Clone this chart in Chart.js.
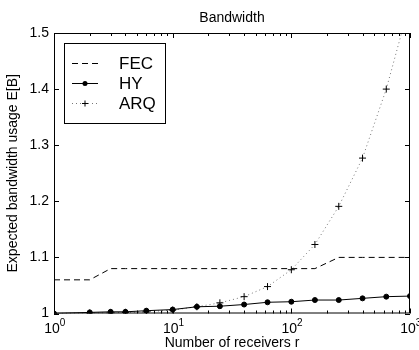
<!DOCTYPE html>
<html>
<head>
<meta charset="utf-8">
<script src="https://cdn.jsdelivr.net/npm/chart.js@4"></script>
<style>
  body { margin: 0; background: #fff; }
  canvas { display: block; }
</style>
</head>
<body>
<canvas id="bw" width="419" height="350"></canvas>
<script>
// data
const receivers = [1, 2, 3, 4, 6, 10, 16, 25, 40, 63, 100, 158, 251, 398, 631, 1000];
const fecValues = [1.06, 1.06, 1.08, 1.08, 1.08, 1.08, 1.08, 1.08, 1.08, 1.08, 1.08, 1.08, 1.10, 1.10, 1.10, 1.10];
const hyValues  = [1.000, 1.002, 1.003, 1.003, 1.005, 1.007, 1.012, 1.013, 1.016, 1.020, 1.021, 1.024, 1.024, 1.027, 1.030, 1.031];
const arqValues = [1.000, 1.001, 1.001, 1.002, 1.003, 1.006, 1.012, 1.019, 1.030, 1.048, 1.078, 1.123, 1.191, 1.277, 1.400, 1.555];
const yTicks = [1, 1.1, 1.2, 1.3, 1.4, 1.5];
const xDecades = [1, 10, 100, 1000];
const seriesNames = ['FEC', 'HY', 'ARQ'];

const FONT = '"Liberation Sans", Arial, Helvetica, sans-serif';

function pts(vals) {
    return receivers.map((r, i) => ({ x: r, y: vals[i] }));
}

// MATLAB-like box, inward ticks, labels and legend
const matlabFrame = {
    id: 'matlabFrame',
    afterDraw(chart) {
        const ctx = chart.ctx;
        const a = chart.chartArea;
        const xs = chart.scales.x;
        const ys = chart.scales.y;
        ctx.save();
        ctx.strokeStyle = '#000';
        ctx.lineWidth = 1;
        ctx.setLineDash([]);
        ctx.strokeRect(a.left + 0.5, a.top + 0.5, a.right - a.left - 1, a.bottom - a.top - 1);

        // x ticks (major + minor), top and bottom
        ctx.beginPath();
        xDecades.forEach((d, k) => {
            for (let m = 1; m <= 9; m++) {
                const v = d * m;
                if (v > 1000 || (m > 1 && k === xDecades.length - 1)) continue;
                const px = Math.round(xs.getPixelForValue(v)) + 0.5;
                const len = m === 1 ? 5 : 3;
                ctx.moveTo(px, a.bottom);
                ctx.lineTo(px, a.bottom - len);
                ctx.moveTo(px, a.top);
                ctx.lineTo(px, a.top + len);
            }
        });
        // y ticks, left and right
        yTicks.forEach(v => {
            const py = Math.round(ys.getPixelForValue(v)) + 0.5;
            ctx.moveTo(a.left, py);
            ctx.lineTo(a.left + 5, py);
            ctx.moveTo(a.right, py);
            ctx.lineTo(a.right - 5, py);
        });
        ctx.stroke();

        // x tick labels 10^n
        ctx.fillStyle = '#000';
        ctx.textBaseline = 'alphabetic';
        xDecades.forEach((d, k) => {
            const px = xs.getPixelForValue(d);
            ctx.font = '14px ' + FONT;
            const w = ctx.measureText('10').width;
            ctx.textAlign = 'left';
            ctx.fillText('10', px - w / 2 - 2, 333);
            ctx.font = '10px ' + FONT;
            ctx.fillText(String(k), px + w / 2 - 2, 326);
        });

        // titles
        ctx.font = '14px ' + FONT;
        ctx.textAlign = 'center';
        ctx.fillText('Bandwidth', (a.left + a.right) / 2, 22);
        ctx.fillText('Number of receivers r', (a.left + a.right) / 2, 347);
        ctx.save();
        ctx.translate(17, (a.top + a.bottom) / 2);
        ctx.rotate(-Math.PI / 2);
        ctx.fillText('Expected bandwidth usage E[B]', 0, 0);
        ctx.restore();

        // legend
        ctx.fillStyle = '#fff';
        ctx.fillRect(64.5, 43.5, 101, 80);
        ctx.strokeRect(64.5, 43.5, 101, 80);
        const rows = [63, 83, 103];
        chart.data.datasets.forEach((ds, i) => {
            const y = rows[i] + 0.5;
            ctx.strokeStyle = ds.borderColor;
            ctx.lineWidth = ds.borderWidth;
            ctx.setLineDash(ds.borderDash || []);
            ctx.beginPath();
            ctx.moveTo(72, y);
            ctx.lineTo(98, y);
            ctx.stroke();
            ctx.setLineDash([]);
            if (ds.pointStyle === 'circle') {
                ctx.fillStyle = '#000';
                ctx.beginPath();
                ctx.arc(85, y, 2.5, 0, Math.PI * 2);
                ctx.fill();
            } else if (ds.pointStyle === 'cross') {
                ctx.strokeStyle = '#000';
                ctx.lineWidth = 1;
                ctx.beginPath();
                ctx.moveTo(82, y); ctx.lineTo(88, y);
                ctx.moveTo(85, y - 3); ctx.lineTo(85, y + 3);
                ctx.stroke();
            }
            ctx.fillStyle = '#000';
            ctx.font = '17px ' + FONT;
            ctx.textAlign = 'left';
            ctx.textBaseline = 'middle';
            ctx.fillText(seriesNames[i], 119, rows[i] + 1);
        });
        ctx.restore();
    }
};

new Chart(document.getElementById('bw'), {
    type: 'line',
    data: {
        datasets: [{
            label: seriesNames[0],
            data: pts(fecValues),
            borderColor: '#000',
            borderWidth: 1,
            borderDash: [6, 4],
            pointRadius: 0,
            pointStyle: false
        }, {
            label: seriesNames[1],
            data: pts(hyValues),
            borderColor: '#000',
            borderWidth: 1,
            pointStyle: 'circle',
            pointRadius: 2.5,
            pointBackgroundColor: '#000',
            pointBorderColor: '#000'
        }, {
            label: seriesNames[2],
            data: pts(arqValues),
            borderColor: '#777',
            borderWidth: 1,
            borderDash: [1, 3],
            pointStyle: 'cross',
            pointRadius: 3.5,
            pointBorderColor: '#000',
            pointBorderWidth: 1
        }]
    },
    options: {
        responsive: false,
        animation: false,
        devicePixelRatio: 1,
        layout: { padding: { top: 33, right: 9, left: 0, bottom: 0 } },
        plugins: {
            legend: { display: false },
            tooltip: { enabled: false },
            title: { display: false }
        },
        scales: {
            x: {
                type: 'logarithmic',
                min: 1,
                max: 1000,
                grid: { display: false, drawTicks: false },
                border: { display: false },
                ticks: { display: false },
                afterFit: s => { s.height = 36.5; }
            },
            y: {
                type: 'linear',
                min: 1,
                max: 1.5,
                grid: { display: false, drawTicks: false },
                border: { display: false },
                ticks: {
                    stepSize: 0.1,
                    padding: 5,
                    color: '#000',
                    font: { family: FONT, size: 14 },
                    callback: v => {
                        const r = Math.round(v * 10) / 10;
                        return r === 1 ? '1' : r.toFixed(1);
                    }
                },
                afterFit: s => { s.width = 54; }
            }
        }
    },
    plugins: [matlabFrame]
});
</script>
</body>
</html>
